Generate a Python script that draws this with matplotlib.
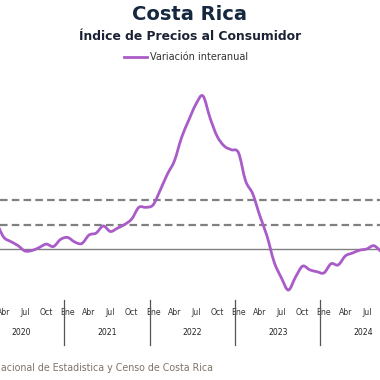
import matplotlib
matplotlib.use("Agg")
import matplotlib.pyplot as plt
import numpy as np
from matplotlib.path import Path
from matplotlib.patches import PathPatch
from matplotlib.lines import Line2D

# Monthly year-on-year CPI change (%), Mar 2020 .. Sep 2024
start_month = 2  # Mar 2020, months counted from Jan 2020 = 0
values = [
    2.20, 0.98, 0.61, 0.29, -0.16, -0.12, 0.12, 0.40, 0.20, 0.78,       # 2020 Mar-Dec
    0.94, 0.57, 0.45, 1.14, 1.30, 1.88, 1.43, 1.70, 2.00, 2.45, 3.40, 3.40,  # 2021
    3.60, 4.80, 6.10, 7.20, 9.10, 10.50, 11.80, 12.50, 10.70, 9.20, 8.40, 8.10,  # 2022
    7.85, 5.55, 4.50, 2.70, 1.06, -1.06, -2.33, -3.35, -2.30, -1.40, -1.70, -1.85,  # 2023
    -1.95, -1.20, -1.30, -0.57, -0.33, -0.10, 0.00, 0.27, -0.20,          # 2024 Jan-Sep
]
target_band = [2, 4]
month_names = ["Ene", "Abr", "Jul", "Oct"]
years = [2020, 2021, 2022, 2023, 2024]

line_color = "#A95CC8"

x = np.arange(start_month, start_month + len(values))
y = np.array(values)

fig = plt.figure(figsize=(3.8, 3.8), dpi=100)
# plot area: value -4 at y=298px, 14 at y=77.5px
ax = fig.add_axes([0, (380 - 298) / 380, 1, (298 - 77.5) / 380])
for s in ax.spines.values():
    s.set_visible(False)
ax.set_yticks([])

# reference lines
ax.axhline(0, color="#808080", lw=1.0, zorder=1)
for v in target_band:
    ax.axhline(v, color="#808080", lw=1.6, dashes=(3.4, 1.9), zorder=1)

# smoothed line (Excel-style cubic Bezier through the monthly points)
pts = np.column_stack([x, y])
ext = np.vstack([pts[0], pts, pts[-1]])
verts = [tuple(pts[0])]
codes = [Path.MOVETO]
for i in range(len(pts) - 1):
    p0, p1, p2, p3 = ext[i], ext[i + 1], ext[i + 2], ext[i + 3]
    c1 = p1 + (p2 - p0) / 6
    c2 = p2 - (p3 - p1) / 6
    verts += [tuple(c1), tuple(c2), tuple(p2)]
    codes += [Path.CURVE4] * 3
ax.add_patch(PathPatch(Path(verts, codes), facecolor="none", edgecolor=line_color,
                       lw=2.0, capstyle="round", joinstyle="round", zorder=3))

# x axis: quarter labels, year labels, year separators
ticks, labels = [], []
for yi, yr in enumerate(years):
    for qi, name in enumerate(month_names):
        ticks.append(yi * 12 + qi * 3)
        labels.append(name)
ax.set_xticks(ticks)
ax.set_xticklabels(labels, fontsize=5.6, color="#333333")
ax.tick_params(axis="x", length=0, pad=7)

# one month = 7.12 px; the picture starts at the beginning of Apr 2020
ax.set_xlim(2.5, 2.5 + 380 / 7.12)
ax.set_ylim(-4, 14)

trans = ax.get_xaxis_transform()
for yi, yr in enumerate(years):
    ax.text(yi * 12 + 5.5, -0.155, str(yr), transform=trans, ha="center", va="center",
            fontsize=5.6, color="#222222")
    if yi > 0:
        ax.plot([yi * 12 - 0.5] * 2, [-0.01, -0.215], transform=trans, color="#555555",
                lw=0.9, clip_on=False)

# titles and legend
fig.text(0.5, 1 - 15 / 380, "Costa Rica", ha="center", va="center", fontsize=14,
         fontweight="bold", color="#16283F")
fig.text(0.5, 1 - 36.5 / 380, "Índice de Precios al Consumidor", ha="center", va="center",
         fontsize=8.9, fontweight="bold", color="#1B2233")
handle = Line2D([], [], color=line_color, lw=2.0)
fig.legend([handle], ["Variación interanual"], loc="center", bbox_to_anchor=(0.49, 1 - 57 / 380),
           frameon=False, fontsize=7.0, handlelength=2.4, handletextpad=0.3, labelcolor="#333333")

fig.text(213 / 380, 1 - 368 / 380, "Fuente: Instituto Nacional de Estadistica y Censo de Costa Rica",
         ha="right", va="center", fontsize=6.85, color="#7F7468")

fig.savefig("out.png", dpi=100)
